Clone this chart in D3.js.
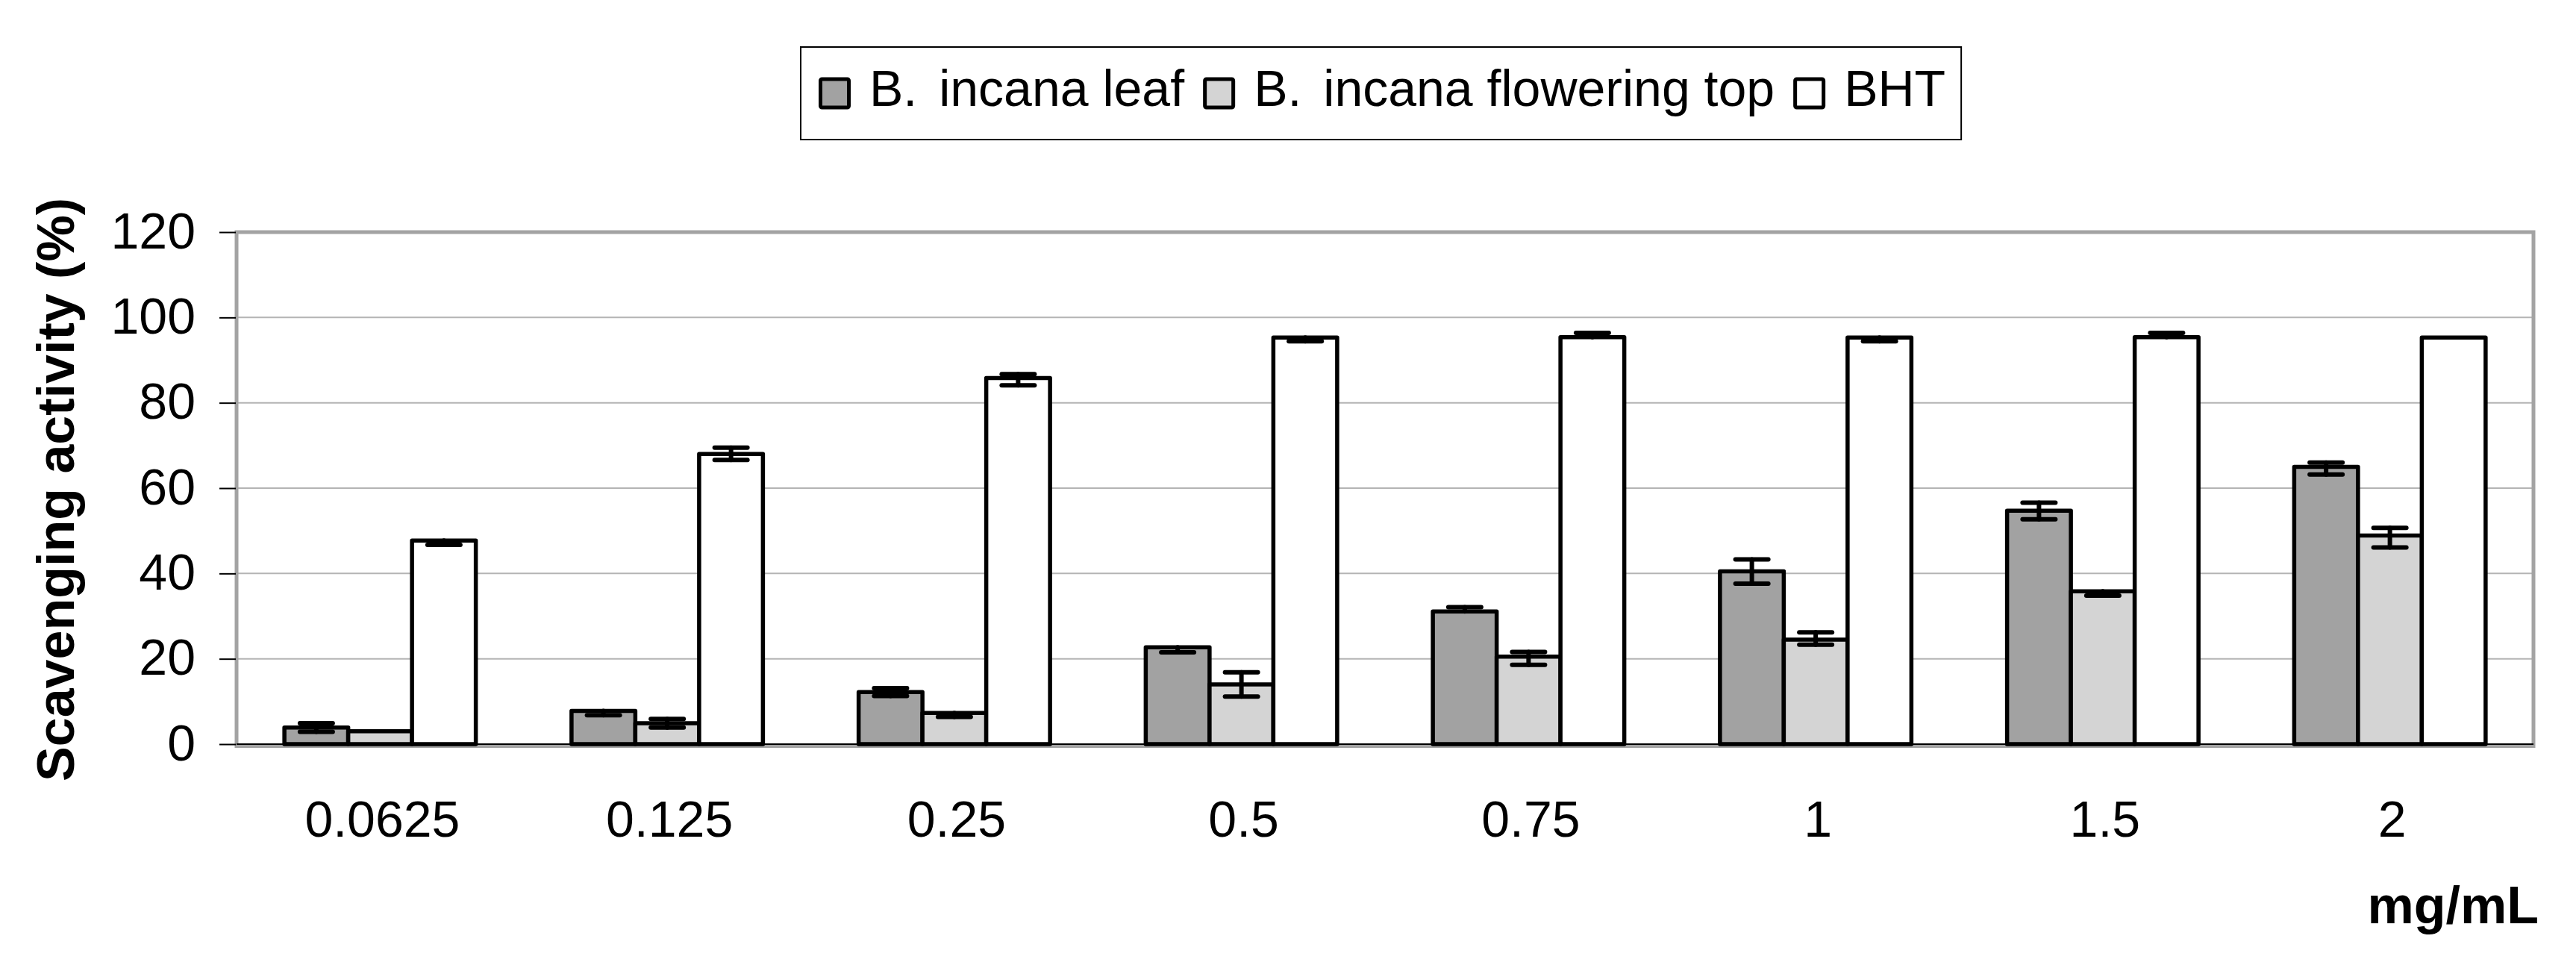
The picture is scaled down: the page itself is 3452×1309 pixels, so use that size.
<!DOCTYPE html>
<html>
<head>
<meta charset="utf-8">
<script src="https://cdn.jsdelivr.net/npm/d3@7"></script>
<style>
  html, body { margin: 0; padding: 0; background: #ffffff; }
  svg { display: block; }
  text { font-family: "Liberation Sans", Arial, Helvetica, sans-serif; fill: #000; }
</style>
</head>
<body>
<svg id="chart" width="3452" height="1309"></svg>
<script>
// ---- data ----
const categories = ["0.0625", "0.125", "0.25", "0.5", "0.75", "1", "1.5", "2"];
const seriesNames = ["B. incana leaf", "B. incana flowering top", "BHT"];
const seriesColors = ["#a2a2a2", "#d4d4d4", "#ffffff"];

const leafValues   = [3.9, 7.8, 12.2, 22.7, 31.1, 40.5, 54.7, 65.0];
const leafPlus     = [1.0, 0.0, 0.9, 0.0, 1.0, 2.8, 1.9, 1.0];
const leafMinus    = [1.0, 1.0, 0.9, 1.2, 0.0, 2.9, 2.0, 1.8];

const flowerValues = [3.0, 4.9, 7.3, 14.0, 20.5, 24.5, 35.8, 48.9];
const flowerPlus   = [0.0, 1.0, 0.0, 2.85, 1.1, 1.7, 0.0, 1.8];
const flowerMinus  = [0.0, 1.0, 0.9, 2.85, 1.9, 1.2, 1.0, 2.8];

const bhtValues    = [47.7, 68.0, 85.8, 95.3, 95.4, 95.3, 95.4, 95.3];
const bhtPlus      = [0.0, 1.5, 0.9, 0.0, 1.0, 0.0, 1.0, 0.0];
const bhtMinus     = [1.0, 1.4, 1.7, 0.9, 0.0, 0.9, 0.0, 0.0];

const yTicks = [0, 20, 40, 60, 80, 100, 120];
const yTitle = "Scavenging activity (%)";
const xTitle = "mg/mL";

const seriesValues = [leafValues, flowerValues, bhtValues];
const seriesPlus = [leafPlus, flowerPlus, bhtPlus];
const seriesMinus = [leafMinus, flowerMinus, bhtMinus];

// ---- layout ----
const svg = d3.select("#chart");
const plot = { left: 317, right: 3395, top: 311, bottom: 997 };

const x0 = d3.scaleBand().domain(categories).range([plot.left, plot.right])
  .paddingInner(1 / 3).paddingOuter(1 / 6);
const x1 = d3.scaleBand().domain(d3.range(seriesNames.length)).range([0, x0.bandwidth()]);
const y = d3.scaleLinear().domain([0, 120]).range([plot.bottom, plot.top]);

// gridlines
svg.append("g").selectAll("line").data(yTicks.filter(t => t > 0 && t < 120)).join("line")
  .attr("x1", plot.left).attr("x2", plot.right)
  .attr("y1", d => y(d)).attr("y2", d => y(d))
  .attr("stroke", "#b4b4b4").attr("stroke-width", 2);

// plot frame (gray)
svg.append("rect")
  .attr("x", plot.left).attr("y", plot.top)
  .attr("width", plot.right - plot.left).attr("height", plot.bottom + 2.5 - plot.top)
  .attr("fill", "none").attr("stroke", "#a3a3a3").attr("stroke-width", 5);

// y axis ticks + labels via d3 axis
const yAxis = d3.axisLeft(y).tickValues(yTicks).tickSize(22).tickPadding(32).tickFormat(d3.format("d"));
const gy = svg.append("g").attr("transform", `translate(${plot.left - 1},0)`).call(yAxis);
gy.select(".domain").remove();
gy.selectAll(".tick line").attr("stroke", "#000").attr("stroke-width", 2);
gy.selectAll(".tick text")
  .attr("font-size", 68).attr("dy", null).attr("y", 21)
  .style("font-family", '"Liberation Sans", Arial, sans-serif');

// bars
const groups = svg.append("g").selectAll("g").data(categories).join("g")
  .attr("transform", d => `translate(${x0(d)},0)`);

groups.selectAll("rect").data((c, ci) => seriesNames.map((s, si) => ({ si, v: seriesValues[si][ci] })))
  .join("rect")
  .attr("x", d => x1(d.si)).attr("width", x1.bandwidth())
  .attr("y", d => y(d.v)).attr("height", d => y(0) - y(d.v))
  .attr("fill", d => seriesColors[d.si])
  .attr("stroke", "#000").attr("stroke-width", 5.5).attr("stroke-linejoin", "round");

// black x axis line
svg.append("line").attr("x1", plot.left).attr("x2", plot.right)
  .attr("y1", y(0)).attr("y2", y(0)).attr("stroke", "#000").attr("stroke-width", 2);

// error bars
const capHalf = 22;
const errData = [];
categories.forEach((c, ci) => {
  seriesNames.forEach((s, si) => {
    errData.push({ c, si, v: seriesValues[si][ci], p: seriesPlus[si][ci], m: seriesMinus[si][ci] });
  });
});
const eg = svg.append("g").attr("stroke", "#000").attr("stroke-width", 6).attr("stroke-linecap", "round");
errData.forEach(d => {
  const cx = x0(d.c) + x1(d.si) + x1.bandwidth() / 2;
  if (d.p > 0) {
    eg.append("line").attr("x1", cx).attr("x2", cx).attr("y1", y(d.v)).attr("y2", y(d.v + d.p));
    eg.append("line").attr("x1", cx - capHalf).attr("x2", cx + capHalf).attr("y1", y(d.v + d.p)).attr("y2", y(d.v + d.p));
  }
  if (d.m > 0) {
    eg.append("line").attr("x1", cx).attr("x2", cx).attr("y1", y(d.v)).attr("y2", y(d.v - d.m));
    eg.append("line").attr("x1", cx - capHalf).attr("x2", cx + capHalf).attr("y1", y(d.v - d.m)).attr("y2", y(d.v - d.m));
  }
});

// x axis labels
const xAxis = d3.axisBottom(x0).tickSize(0).tickPadding(0);
const gx = svg.append("g").attr("transform", `translate(3,0)`).call(xAxis);
gx.select(".domain").remove();
gx.selectAll(".tick text").attr("font-size", 68).attr("dy", null).attr("y", 1121)
  .style("font-family", '"Liberation Sans", Arial, sans-serif');

// axis titles
svg.append("text").attr("transform", `translate(99,656) rotate(-90)`)
  .attr("text-anchor", "middle").attr("font-size", 70).attr("font-weight", "bold").text(yTitle);
svg.append("text").attr("x", 3402).attr("y", 1237).attr("text-anchor", "end")
  .attr("font-size", 70).attr("font-weight", "bold").text(xTitle);

// legend
const lg = svg.append("g");
const legendBox = lg.append("rect").attr("fill", "#fff").attr("stroke", "#000").attr("stroke-width", 2);
let cursor = 1097;
const swatch = 43, gapST = 25, gapTS = 25, baseY = 142, extraSpace = 10;
seriesNames.forEach((name, i) => {
  lg.append("rect").attr("x", cursor + 2.5).attr("y", 125 - swatch / 2 + 2.5)
    .attr("width", swatch - 5).attr("height", swatch - 5).attr("rx", 2)
    .attr("fill", seriesColors[i]).attr("stroke", "#000").attr("stroke-width", 5);
  cursor += swatch + gapST;
  const t = lg.append("text").attr("x", cursor).attr("y", baseY).attr("font-size", 68);
  let extra = 0;
  if (name.startsWith("B. ")) {
    t.append("tspan").text("B.");
    t.append("tspan").attr("dx", extraSpace).text(name.slice(2));
    extra = extraSpace;
  } else {
    t.text(name);
  }
  const w = t.node().getBBox().width;
  cursor += Math.max(w, t.node().getComputedTextLength() + extra) + gapTS;
});
legendBox.attr("x", 1073).attr("y", 63).attr("width", cursor - gapTS + 21 - 1073).attr("height", 124);
</script>
</body>
</html>
